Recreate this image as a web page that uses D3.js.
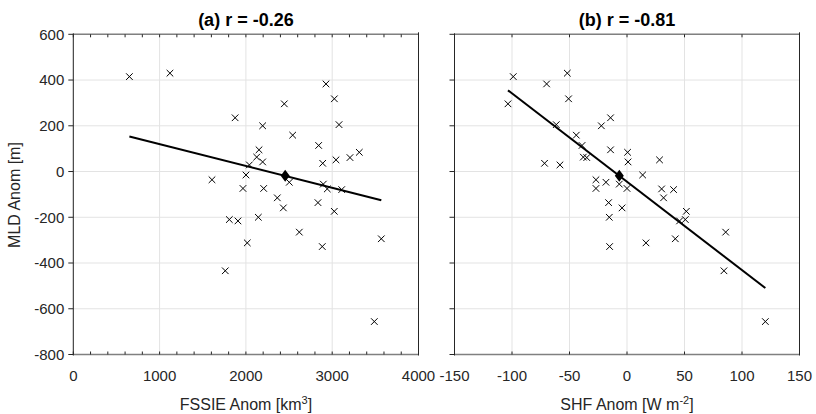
<!DOCTYPE html>
<html><head><meta charset="utf-8">
<script src="https://cdn.jsdelivr.net/npm/d3@7"></script>
<style>body{margin:0;background:#fff} svg{display:block} text{font-family:"Liberation Sans",Arial,Helvetica,sans-serif}</style>
</head><body><svg id="c" width="816" height="414"></svg>
<script>
// MLD anomaly [m] for each year (shared by both panels)
const mld = [415,430,383,318,296,235,205,200,159,114,95,84,63,61,51,42,36,29,-15,-36,-47,-55,-74,-74,-76,-79,-115,-136,-159,-174,-200,-210,-216,-265,-294,-312,-328,-434,-656];
// FSSIE anomaly [km3]
const fssie = [650,1120,2928,3025,2445,1875,3079,2194,2542,2843,2152,3314,2125,3206,3044,2194,2890,2040,2001,1607,2503,2897,1966,2206,2943,3110,2364,2835,2434,3024,2144,1808,1908,2619,3569,2016,2885,1761,3488];
// SHF anomaly [W m-2]
const shf = [-98.9,-51.9,-69.9,-50.8,-103.5,-14.3,-61.5,-22.3,-44.1,-39.1,-14.3,0.5,-38,-35,28.3,0.9,-71.7,-58.3,13.6,-27,-18.3,-6.7,-27,0,30.1,40.5,31.8,-16,-4.3,51.6,-15.4,50.7,45.7,85.8,42,16.5,-15.1,84.3,120.3];
const titles = ["(a) r = -0.26", "(b) r = -0.81"];
const yTicks = [600,400,200,0,-200,-400,-600,-800];
const xTicksA = [0,1000,2000,3000,4000];
const xMinorA = d3.range(0,4001,200);
const xTicksB = [-150,-100,-50,0,50,100,150];

const svg = d3.select("#c");
const y = d3.scaleLinear().domain([-800,600]).range([354.5,34.3]);

const panels = [
  {x: fssie, dom:[0,4000], rng:[73.3,418.5], ticks:xTicksA, minor:xMinorA, title:titles[0], ylabels:true, label:"a"},
  {x: shf, dom:[-150,150], rng:[454.5,799.5], ticks:xTicksB, minor:null, title:titles[1], ylabels:false, label:"b"}
];

const dark = "#262626", grid = "#e3e3e3", frame = "#808080";

panels.forEach(p => {
  const x = d3.scaleLinear().domain(p.dom).range(p.rng);
  const g = svg.append("g");
  const [x0,x1] = p.rng, y0 = y(600), y1 = y(-800);
  // grid
  g.selectAll(".gx").data(p.ticks).join("line")
    .attr("x1", d=>x(d)).attr("x2", d=>x(d)).attr("y1", y0).attr("y2", y1)
    .attr("stroke", grid).attr("stroke-width", 1);
  g.selectAll(".gy").data(yTicks).join("line")
    .attr("x1", x0).attr("x2", x1).attr("y1", d=>y(d)).attr("y2", d=>y(d))
    .attr("stroke", grid).attr("stroke-width", 1);
  // frame
  g.append("line").attr("x1",x0).attr("x2",x1).attr("y1",y0).attr("y2",y0).attr("stroke",frame).attr("stroke-width",1.6);
  g.append("line").attr("x1",x0).attr("x2",x1).attr("y1",y1).attr("y2",y1).attr("stroke",frame).attr("stroke-width",1.6);
  g.append("line").attr("x1",x0).attr("x2",x0).attr("y1",y0-1).attr("y2",y1+1).attr("stroke",dark).attr("stroke-width",1);
  g.append("line").attr("x1",x1).attr("x2",x1).attr("y1",y0-2).attr("y2",y1+1).attr("stroke",dark).attr("stroke-width",1);
  // x ticks (inward, top and bottom)
  const tk = p.minor || p.ticks;
  tk.forEach(d => {
    const len = 3;
    g.append("line").attr("x1",x(d)).attr("x2",x(d)).attr("y1",y1).attr("y2",y1-len).attr("stroke",dark).attr("stroke-width",1);
    g.append("line").attr("x1",x(d)).attr("x2",x(d)).attr("y1",y0).attr("y2",y0+len).attr("stroke",dark).attr("stroke-width",1);
  });
  // y ticks (outward on left)
  yTicks.forEach(d => {
    g.append("line").attr("x1",x0-5).attr("x2",x0).attr("y1",y(d)).attr("y2",y(d)).attr("stroke",dark).attr("stroke-width",1);
  });
  // x tick labels
  g.selectAll(".xl").data(p.ticks).join("text")
    .attr("x", d=>x(d)).attr("y", 381).attr("text-anchor","middle")
    .attr("font-size", 15).attr("fill", dark).text(d=>d);
  if (p.ylabels) {
    g.selectAll(".yl").data(yTicks).join("text")
      .attr("x", x0-9).attr("y", d=>y(d)+5.3).attr("text-anchor","end")
      .attr("font-size", 15).attr("fill", dark).text(d=>d);
  }
  // title
  g.append("text").attr("x",(x0+x1)/2).attr("y",26).attr("text-anchor","middle")
    .attr("font-size",18).attr("font-weight","bold").attr("fill","#000").text(p.title);
  // regression line
  const xs = p.x, n = xs.length;
  const mx = d3.mean(xs), my = d3.mean(mld);
  let sxy=0, sxx=0;
  for (let i=0;i<n;i++){ sxy += (xs[i]-mx)*(mld[i]-my); sxx += (xs[i]-mx)**2; }
  const b = sxy/sxx, a = my - b*mx;
  const xe = d3.extent(xs);
  g.append("line").attr("x1",x(xe[0])).attr("y1",y(a+b*xe[0])).attr("x2",x(xe[1])).attr("y2",y(a+b*xe[1]))
    .attr("stroke","#000").attr("stroke-width",2);
  // markers
  const s = 3.3;
  const pts = g.selectAll(".pt").data(d3.range(n)).join("path")
    .attr("d", i => {const cx=x(xs[i]), cy=y(mld[i]); return `M${cx-s},${cy-s}L${cx+s},${cy+s}M${cx-s},${cy+s}L${cx+s},${cy-s}`;})
    .attr("stroke","#000").attr("stroke-width",1).attr("fill","none");
  // mean diamond
  const dx = x(mx), dy = y(my);
  g.append("path").attr("d", `M${dx},${dy-6}L${dx+4.5},${dy}L${dx},${dy+6}L${dx-4.5},${dy}Z`).attr("fill","#000");
});

// axis labels
svg.append("text").attr("x",246).attr("y",409.5).attr("text-anchor","middle").attr("font-size",16).attr("fill",dark)
  .html('FSSIE Anom [km<tspan dy="-6" font-size="11">3</tspan><tspan dy="6">]</tspan>');
svg.append("text").attr("x",627).attr("y",409.5).attr("text-anchor","middle").attr("font-size",16).attr("fill",dark)
  .html('SHF Anom [W m<tspan dy="-6" font-size="11">-2</tspan><tspan dy="6">]</tspan>');
svg.append("text").attr("transform","translate(20,195) rotate(-90)").attr("text-anchor","middle").attr("font-size",16).attr("fill",dark)
  .text("MLD Anom [m]");
</script></body></html>
